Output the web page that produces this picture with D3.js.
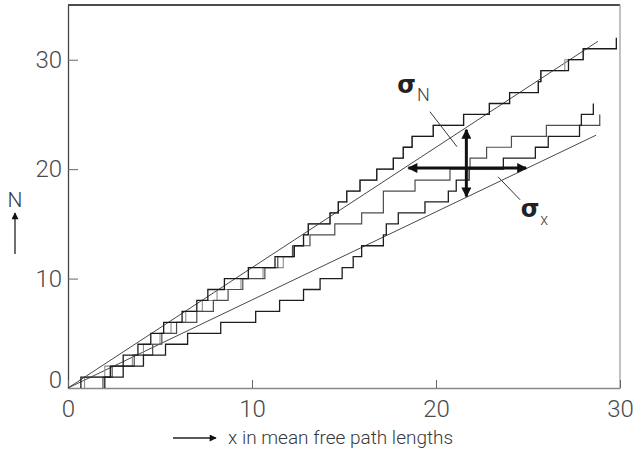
<!DOCTYPE html>
<html>
<head>
<meta charset="utf-8">
<script src="https://cdn.jsdelivr.net/npm/d3@7"></script>
<style>
body { margin: 0; background: #fff; }
svg { display: block; }
text { font-family: Roboto, "Liberation Sans", Arial, sans-serif; font-weight: 300; fill: #3a3a3a; }
</style>
</head>
<body>
<div id="chart"></div>
<script>
// x (in mean free paths) at which each counter steps up by one
var jumpsA = [0.7, 2.3, 3.0, 3.8, 4.5, 5.2, 6.2, 7.0, 7.6, 8.5, 9.8, 11.25, 12.3, 12.8, 13.06, 14.24,
	14.69, 15.15, 15.87, 16.78, 17.68, 18.22, 18.7, 19.85, 21.5, 22.9, 24.0, 25.56, 25.7, 27.2, 28.0, 29.8];
var jumpsB = [0.9, 2.0, 3.5, 4.1, 5.0, 5.6, 6.4, 7.3, 8.1, 9.4, 10.6, 11.7, 12.25, 12.8, 13.06, 14.24,
	14.69, 15.15, 15.87, 16.78, 17.68, 18.22, 18.7, 19.85, 21.5, 22.9, 24.0, 25.56, 25.7, 27.0, 28.0];
var jumpsP = [1.9, 2.4, 3.6, 4.6, 5.1, 5.9, 7.0, 7.9, 8.7, 9.5, 10.7, 11.4, 12.2, 13.15, 14.5, 15.96,
	17.14, 17.14, 18.86, 20.76, 21.85, 22.75, 24.1, 26.0, 28.9];
var jumpsQ = [2.0, 3.0, 4.1, 5.3, 6.5, 8.3, 10.2, 11.5, 12.8, 13.7, 14.9, 15.5, 15.96, 17.14, 17.3, 17.95,
	19.4, 20.67, 21.1, 21.8, 23.66, 25.4, 26.1, 27.8, 27.9, 28.55];

// the two straight lines: slope and end x
var slopes = [1.1, 0.805];
var lineEnds = [28.8, 28.7];

// error bars (sigma_N vertical, sigma_x horizontal)
var sigmaN = {x: 21.65, lo: 17.5, hi: 23.6};
var sigmaX = {n: 20.1, lo: 18.5, hi: 24.9};

var xTicks = [0, 10, 20, 30];
var yTicks = [0, 10, 20, 30];

var width = 633, height = 454;
var x = d3.scaleLinear().domain([0, 30]).range([68, 620]);
var y = d3.scaleLinear().domain([0, 35]).range([388, 5]);

var svg = d3.select("#chart").append("svg")
	.attr("width", width)
	.attr("height", height);

var defs = svg.append("defs");
function marker(id, w, h) {
	defs.append("marker")
		.attr("id", id)
		.attr("viewBox", "0 0 10 10")
		.attr("refX", 9).attr("refY", 5)
		.attr("markerWidth", w).attr("markerHeight", h)
		.attr("markerUnits", "userSpaceOnUse")
		.attr("orient", "auto-start-reverse")
		.append("path")
		.attr("d", "M0,0 L10,5 L0,10 z")
		.style("fill", "#111");
}
marker("head", 13, 10);
marker("small", 8, 7);

// frame
svg.append("line")
	.attr("x1", x(0)).attr("x2", x(30))
	.attr("y1", y(35)).attr("y2", y(35))
	.style("stroke", "#111").style("stroke-width", 1.5);
svg.append("line")
	.attr("x1", x(30)).attr("x2", x(30))
	.attr("y1", y(35)).attr("y2", y(0))
	.style("stroke", "#999").style("stroke-width", 1.2);

// axes
var yAxis = svg.append("g")
	.attr("transform", "translate(" + x(0) + ",0)")
	.call(d3.axisLeft(y).tickValues(yTicks).tickSizeInner(-10).tickSizeOuter(0).tickPadding(6));
var xAxis = svg.append("g")
	.attr("transform", "translate(0," + y(0) + ")")
	.call(d3.axisBottom(x).tickValues(xTicks).tickSizeInner(-8).tickSizeOuter(0).tickPadding(12));

yAxis.select(".domain").style("stroke", "#444").style("stroke-width", 1.3);
xAxis.select(".domain").style("stroke", "#888").style("stroke-width", 1.3);
svg.selectAll(".tick line").style("stroke", "#666");
svg.selectAll(".tick text")
	.style("font-size", "24px")
	.style("fill", "#4a4a4a")
	.style("font-family", "Roboto, 'Liberation Sans', Arial, sans-serif")
	.style("font-weight", 300);
yAxis.selectAll(".tick text").filter(function(d) { return d == 0; }).attr("y", -8);

// straight lines
var plot = svg.append("g");
plot.selectAll(".fit")
	.data(slopes)
	.enter().append("line")
	.attr("class", "fit")
	.attr("x1", x(0)).attr("y1", y(0))
	.attr("x2", function(d, i) { return x(lineEnds[i]); })
	.attr("y2", function(d, i) { return y(d * lineEnds[i]); })
	.style("stroke", "#333")
	.style("stroke-width", 0.9);

// staircases
var stairs = [
	{jumps: jumpsB, color: "#8c8c8c", w: 1.1},
	{jumps: jumpsP, color: "#4d4d4d", w: 1.2},
	{jumps: jumpsQ, color: "#1e1e1e", w: 1.3},
	{jumps: jumpsA, color: "#1a1a1a", w: 1.3}
];
var stepLine = d3.line()
	.x(function(d) { return x(d[0]); })
	.y(function(d) { return y(d[1]); })
	.curve(d3.curveStepAfter);

plot.selectAll(".stair")
	.data(stairs)
	.enter().append("path")
	.attr("class", "stair")
	.attr("d", function(s) {
		var pts = [[s.jumps[0], 0]];
		s.jumps.forEach(function(j, k) { pts.push([j, k + 1]); });
		return stepLine(pts);
	})
	.style("fill", "none")
	.style("stroke", function(s) { return s.color; })
	.style("stroke-width", function(s) { return s.w; });

// error arrows
plot.append("line")
	.attr("x1", x(sigmaN.x)).attr("x2", x(sigmaN.x))
	.attr("y1", y(sigmaN.lo)).attr("y2", y(sigmaN.hi))
	.attr("marker-start", "url(#head)").attr("marker-end", "url(#head)")
	.style("stroke", "#111").style("stroke-width", 3);
plot.append("line")
	.attr("x1", x(sigmaX.lo)).attr("x2", x(sigmaX.hi))
	.attr("y1", y(sigmaX.n)).attr("y2", y(sigmaX.n))
	.attr("marker-start", "url(#head)").attr("marker-end", "url(#head)")
	.style("stroke", "#111").style("stroke-width", 3);

// labels with pointer lines
var pointers = [
	{from: [19.67, 25.25], to: [21.14, 22.05]},
	{from: [23.37, 19.3], to: [24.57, 17.2]}
];
plot.selectAll(".ptr")
	.data(pointers)
	.enter().append("line")
	.attr("class", "ptr")
	.attr("x1", function(d) { return x(d.from[0]); })
	.attr("y1", function(d) { return y(d.from[1]); })
	.attr("x2", function(d) { return x(d.to[0]); })
	.attr("y2", function(d) { return y(d.to[1]); })
	.style("stroke", "#333").style("stroke-width", 1);

var sigLabels = [
	{pos: [17.9, 26.95], sub: "N"},
	{pos: [24.6, 15.6], sub: "x"}
];
var sl = svg.selectAll(".sig")
	.data(sigLabels)
	.enter().append("text")
	.attr("class", "sig")
	.attr("x", function(d) { return x(d.pos[0]); })
	.attr("y", function(d) { return y(d.pos[1]); });
sl.append("tspan")
	.text("σ")
	.style("font-family", "'DejaVu Sans', sans-serif")
	.style("font-weight", "bold")
	.style("font-size", "24px")
	.style("fill", "#222");
sl.append("tspan")
	.attr("dy", 8)
	.attr("dx", 1)
	.text(function(d) { return d.sub; })
	.style("font-size", function(d) { return d.sub == "N" ? "18px" : "16px"; })
	.style("fill", "#444");

// axis titles
svg.append("text")
	.attr("x", 15).attr("y", 207)
	.attr("text-anchor", "middle")
	.style("font-size", "21px")
	.text("N");
svg.append("line")
	.attr("x1", 15).attr("x2", 15)
	.attr("y1", 254).attr("y2", 213)
	.attr("marker-end", "url(#small)")
	.style("stroke", "#222").style("stroke-width", 1.3);

svg.append("line")
	.attr("x1", 173).attr("x2", 216)
	.attr("y1", 438).attr("y2", 438)
	.attr("marker-end", "url(#small)")
	.style("stroke", "#222").style("stroke-width", 1.3);
svg.append("text")
	.attr("x", 228).attr("y", 444)
	.style("font-size", "19px")
	.text("x in mean free path lengths");
</script>
</body>
</html>
